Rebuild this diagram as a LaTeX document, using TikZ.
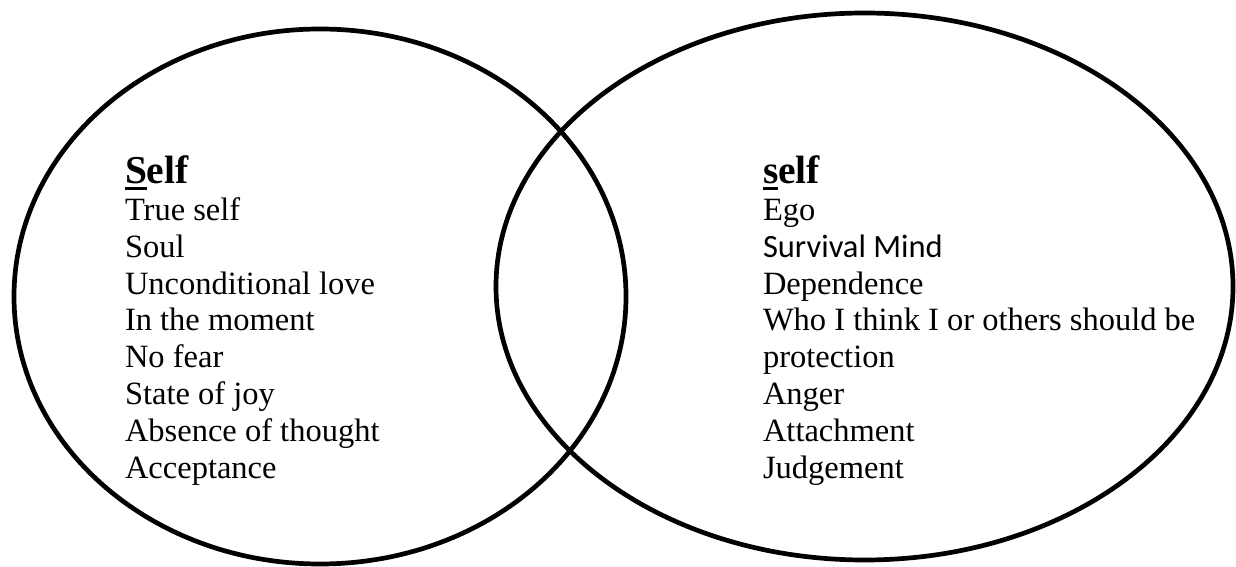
\documentclass[tikz,border=0pt]{standalone}
\usepackage{fontspec}
\setmainfont{Liberation Serif}
\newfontfamily\calibrifont{Carlito}
\newcommand\ufirstletter[1]{\setbox0\hbox{#1}\rlap{\rule[-6.5pt]{\wd0}{3.3pt}}\box0}
\begin{document}
\begin{tikzpicture}[x=1pt,y=1pt,
  ring/.style={draw=black,line width=4.7pt},
  item/.style={anchor=base west,inner sep=0pt,outer sep=0pt,font=\fontsize{32.5}{37}\selectfont},
  head/.style={anchor=base west,inner sep=0pt,outer sep=0pt,font=\fontsize{39.5}{44}\selectfont\bfseries}]
\useasboundingbox (0,0) rectangle (1236,567);
\draw[ring] (320,270.5) ellipse [x radius=306, y radius=267.5];
\draw[ring] (864.5,280.5) ellipse [x radius=368.5, y radius=273.5];
% left list
\node[head] (lh) at (125,383) {\ufirstletter{S}elf};
\node[item] (l1) at (125,346.5) {True self};
\node[item] (l2) at (125,309.7) {Soul};
\node[item] (l3) at (125,272.9) {Unconditional love};
\node[item] (l4) at (125,236.1) {In the moment};
\node[item] (l5) at (125,199.3) {No fear};
\node[item] (l6) at (125,162.5) {State of joy};
\node[item] (l7) at (125,125.7) {Absence of thought};
\node[item] (l8) at (125,88.9) {Acceptance};
% right list
\node[head] (rh) at (763,383) {\ufirstletter{s}elf};
\node[item] (r1) at (763,346.5) {Ego};
\node[item] (r2) at (763,309.7) {\calibrifont Survival Mind};
\node[item] (r3) at (763,272.9) {Dependence};
\node[item] (r4) at (763,236.1) {Who I think I or others should be};
\node[item] (r5) at (763,199.3) {protection};
\node[item] (r6) at (763,162.5) {Anger};
\node[item] (r7) at (763,125.7) {Attachment};
\node[item] (r8) at (763,88.9) {Judgement};
\end{tikzpicture}
\end{document}
